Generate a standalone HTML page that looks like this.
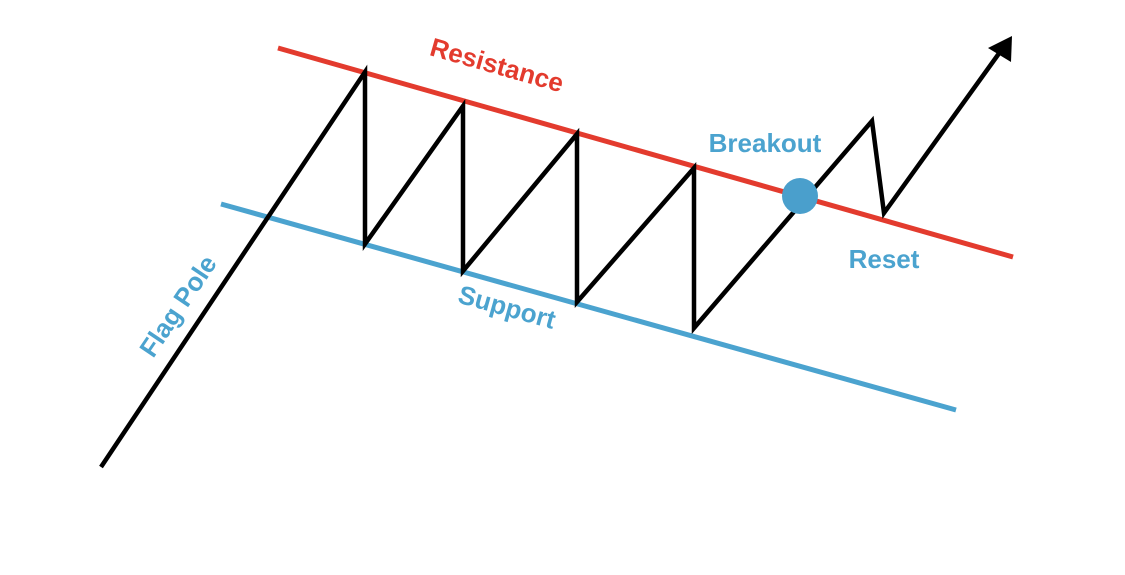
<!DOCTYPE html>
<html><head><style>body{margin:0;background:#fff}svg{display:block}</style></head><body>
<svg width="1125" height="575" xmlns="http://www.w3.org/2000/svg" font-family="Liberation Sans, sans-serif" font-weight="bold">
<line x1="278" y1="48" x2="1013" y2="257" stroke="#e33b2e" stroke-width="5"/>
<line x1="221" y1="204" x2="956" y2="410" stroke="#4ba3cf" stroke-width="5"/>
<polyline points="101,467 365,72 365,244 463,106 463,271 577,134 577,302 694,168 694,328 872,121 884,213 1000,52" fill="none" stroke="#000" stroke-width="4.5" stroke-linejoin="miter"/>
<polygon points="1012,36 988,48 1011,62" fill="#000"/>
<circle cx="800" cy="196" r="18" fill="#4a9fcc"/>
<text x="497" y="74" font-size="26" fill="#e33b2e" text-anchor="middle" transform="rotate(15.9 497 65)">Resistance</text>
<text x="507" y="316" font-size="26" fill="#4ba3cf" text-anchor="middle" transform="rotate(15.6 507 307)">Support</text>
<text x="178" y="315" font-size="26" fill="#4ba3cf" text-anchor="middle" transform="rotate(-56 178 306)">Flag Pole</text>
<text x="765" y="152" font-size="26" fill="#4ba3cf" text-anchor="middle">Breakout</text>
<text x="884" y="268" font-size="26" fill="#4ba3cf" text-anchor="middle">Reset</text>
</svg>
</body></html>
